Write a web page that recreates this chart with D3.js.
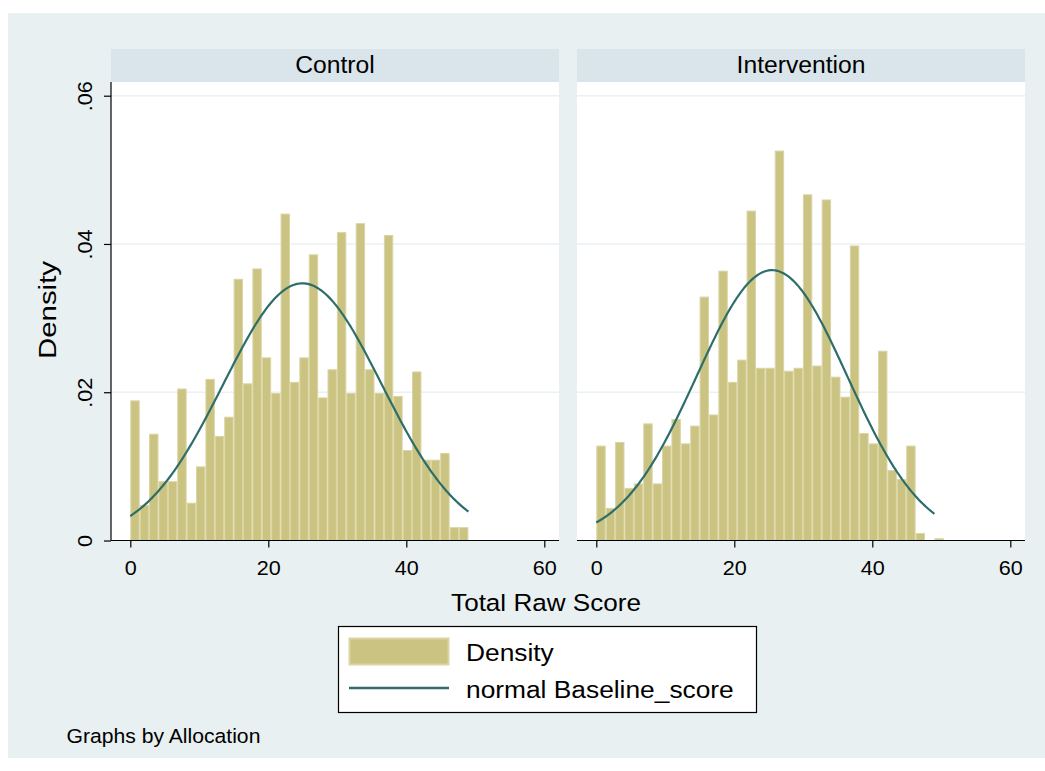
<!DOCTYPE html>
<html>
<head>
<meta charset="utf-8">
<script src="https://cdn.jsdelivr.net/npm/d3@7"></script>
<style>
  html, body { margin: 0; padding: 0; background: #ffffff; }
  svg { display: block; font-family: "Liberation Sans", Arial, Helvetica, sans-serif; }
</style>
</head>
<body>
<svg id="chart" width="1045" height="771"></svg>
<script>
// ---- Data ----
const panels = ["Control", "Intervention"];
const binStart = 0;
const binWidth = 49 / 36;
const controlDensity = [
  0.0189, 0.0048, 0.0144, 0.0080, 0.0080, 0.0205, 0.0051, 0.0100, 0.0218, 0.0141,
  0.0167, 0.0353, 0.0212, 0.0367, 0.0247, 0.0199, 0.0441, 0.0214, 0.0247, 0.0386,
  0.0193, 0.0231, 0.0416, 0.0199, 0.0428, 0.0231, 0.0199, 0.0412, 0.0195, 0.0122,
  0.0228, 0.0109, 0.0109, 0.0118, 0.0018, 0.0018
];
const interventionDensity = [
  0.0128, 0.0044, 0.0133, 0.0071, 0.0077, 0.0158, 0.0077, 0.0128, 0.0164, 0.0131,
  0.0155, 0.0329, 0.0170, 0.0364, 0.0214, 0.0244, 0.0445, 0.0233, 0.0233, 0.0526,
  0.0229, 0.0233, 0.0467, 0.0236, 0.0460, 0.0221, 0.0194, 0.0398, 0.0145, 0.0131,
  0.0256, 0.0095, 0.0083, 0.0128, 0.0010, 0.0000, 0.0003
];
const normalMean = [24.95, 25.46];
const normalSD = [11.5, 10.94];
const curveRange = [0, 49];
const xTicks = [0, 20, 40, 60];
const yTicks = [0, 0.02, 0.04, 0.06];
const yTickLabels = ["0", ".02", ".04", ".06"];
const xTitle = "Total Raw Score";
const yTitle = "Density";
const legendLabels = ["Density", "normal Baseline_score"];
const note = "Graphs by Allocation";

// ---- Styles ----
const bgColor = "#e9f0f2";
const stripColor = "#d9e5ea";
const barFill = "#cbc381";
const barStroke = "#dad5a3";
const curveColor = "#2e6e6a";
const gridColor = "#e9f1f4";
const stretch = 1.08;

const svg = d3.select("#chart");
svg.append("rect").attr("x", 0).attr("y", 0).attr("width", 1045).attr("height", 771).attr("fill", "#fff");
svg.append("rect").attr("x", 8).attr("y", 13).attr("width", 1037).attr("height", 745).attr("fill", bgColor);

function addText(parent, x, y, str, size, anchor, sx, rotate) {
  const t = parent.append("text")
    .attr("transform", `translate(${x},${y})` + (rotate ? ` rotate(${rotate})` : "") + ` scale(${sx},1)`)
    .attr("text-anchor", anchor || "start")
    .attr("font-size", size).attr("fill", "#000").text(str);
  return t;
}

const plotTop = 82, plotBottom = 540.5, stripTop = 49;
const panelLeft = [111, 577], panelWidth = 448;
const y = d3.scaleLinear().domain([0, 0.06]).range([540.5, 95.7]);

const allDensity = [controlDensity, interventionDensity];

panels.forEach((name, p) => {
  const left = panelLeft[p];
  const x = d3.scaleLinear().domain([0, 60]).range([left + 19.3, left + 433.3]);
  const g = svg.append("g");

  // plot region
  g.append("rect").attr("x", left).attr("y", plotTop).attr("width", panelWidth)
    .attr("height", plotBottom - plotTop).attr("fill", "#fff");
  // strip
  g.append("rect").attr("x", left).attr("y", stripTop).attr("width", panelWidth)
    .attr("height", plotTop - stripTop).attr("fill", stripColor);
  addText(g, left + panelWidth / 2, 72.5, name, 23.5, "middle", 1.05);

  // gridlines
  g.selectAll(".grid").data(yTicks.filter(d => d > 0)).enter().append("line")
    .attr("x1", left).attr("x2", left + panelWidth)
    .attr("y1", d => y(d)).attr("y2", d => y(d))
    .attr("stroke", gridColor).attr("stroke-width", 1.6);

  // bars
  const dens = allDensity[p];
  const bins = dens.map((d, i) => ({ i, d })).filter(b => b.d > 0);
  g.selectAll(".bar").data(bins).enter().append("rect")
    .attr("x", b => x(binStart + b.i * binWidth) + 0.5)
    .attr("width", b => x(binStart + (b.i + 1) * binWidth) - x(binStart + b.i * binWidth) - 1)
    .attr("y", b => y(b.d) + 0.5)
    .attr("height", b => Math.max(0.5, y(0) - y(b.d) - 0.5))
    .attr("fill", barFill).attr("stroke", barStroke).attr("stroke-width", 1);

  // normal curve
  const mu = normalMean[p], sd = normalSD[p];
  const pts = d3.range(0, 201).map(k => {
    const v = curveRange[0] + (curveRange[1] - curveRange[0]) * k / 200;
    return [v, Math.exp(-0.5 * ((v - mu) / sd) ** 2) / (sd * Math.sqrt(2 * Math.PI))];
  });
  g.append("path").datum(pts)
    .attr("d", d3.line().x(d => x(d[0])).y(d => y(d[1])))
    .attr("fill", "none").attr("stroke", curveColor).attr("stroke-width", 2.2);

  // x axis
  const xAxis = d3.axisBottom(x).tickValues(xTicks).tickSize(7).tickPadding(4).tickFormat(d3.format("d"));
  const ax = g.append("g").attr("transform", `translate(0,${plotBottom})`).call(xAxis);
  ax.select(".domain").remove();
  ax.append("line").attr("x1", left).attr("x2", left + panelWidth).attr("y1", 0).attr("y2", 0)
    .attr("stroke", "#000").attr("stroke-width", 1.2);
  ax.selectAll(".tick line").attr("stroke", "#000").attr("stroke-width", 1.2);
  ax.selectAll(".tick text").attr("font-size", 20).attr("fill", "#000")
    .attr("font-family", "Liberation Sans, Arial, sans-serif")
    .attr("y", null).attr("dy", null)
    .attr("transform", `translate(0,34.5) scale(${stretch},1)`);

  if (p === 0) {
    const yAxis = d3.axisLeft(y).tickValues(yTicks).tickSize(7).tickFormat((d, i) => yTickLabels[i]);
    const ay = g.append("g").attr("transform", `translate(${left},0)`).call(yAxis);
    ay.select(".domain").remove();
    ay.append("line").attr("x1", 0).attr("x2", 0).attr("y1", plotTop).attr("y2", plotBottom)
      .attr("stroke", "#000").attr("stroke-width", 1.2);
    ay.selectAll(".tick line").attr("stroke", "#000").attr("stroke-width", 1.2);
    ay.selectAll(".tick text").attr("font-size", 20).attr("fill", "#000")
      .attr("font-family", "Liberation Sans, Arial, sans-serif")
      .attr("x", null).attr("dy", null)
      .attr("text-anchor", "middle")
      .attr("transform", `translate(-19.5,0) rotate(-90) scale(${stretch},1)`);
  }
});

// axis titles
addText(svg, 546, 610.5, xTitle, 23.5, "middle", 1.11);
addText(svg, 55.5, 310, yTitle, 24.5, "middle", 1.2, -90);

// legend
const lg = svg.append("g");
lg.append("rect").attr("x", 338.5).attr("y", 626.5).attr("width", 418).attr("height", 86)
  .attr("fill", "#fff").attr("stroke", "#000").attr("stroke-width", 1.2);
lg.append("rect").attr("x", 349.5).attr("y", 638.5).attr("width", 99).attr("height", 26)
  .attr("fill", barFill).attr("stroke", barStroke).attr("stroke-width", 2);
lg.append("line").attr("x1", 349).attr("x2", 449).attr("y1", 688).attr("y2", 688)
  .attr("stroke", curveColor).attr("stroke-width", 2.5);
legendLabels.forEach((lab, i) => addText(lg, 466, [661, 698][i], lab, 24.5, "start", 1.075));

// note
addText(svg, 66.5, 743, note, 19.5, "start", 1.085);
</script>
</body>
</html>
